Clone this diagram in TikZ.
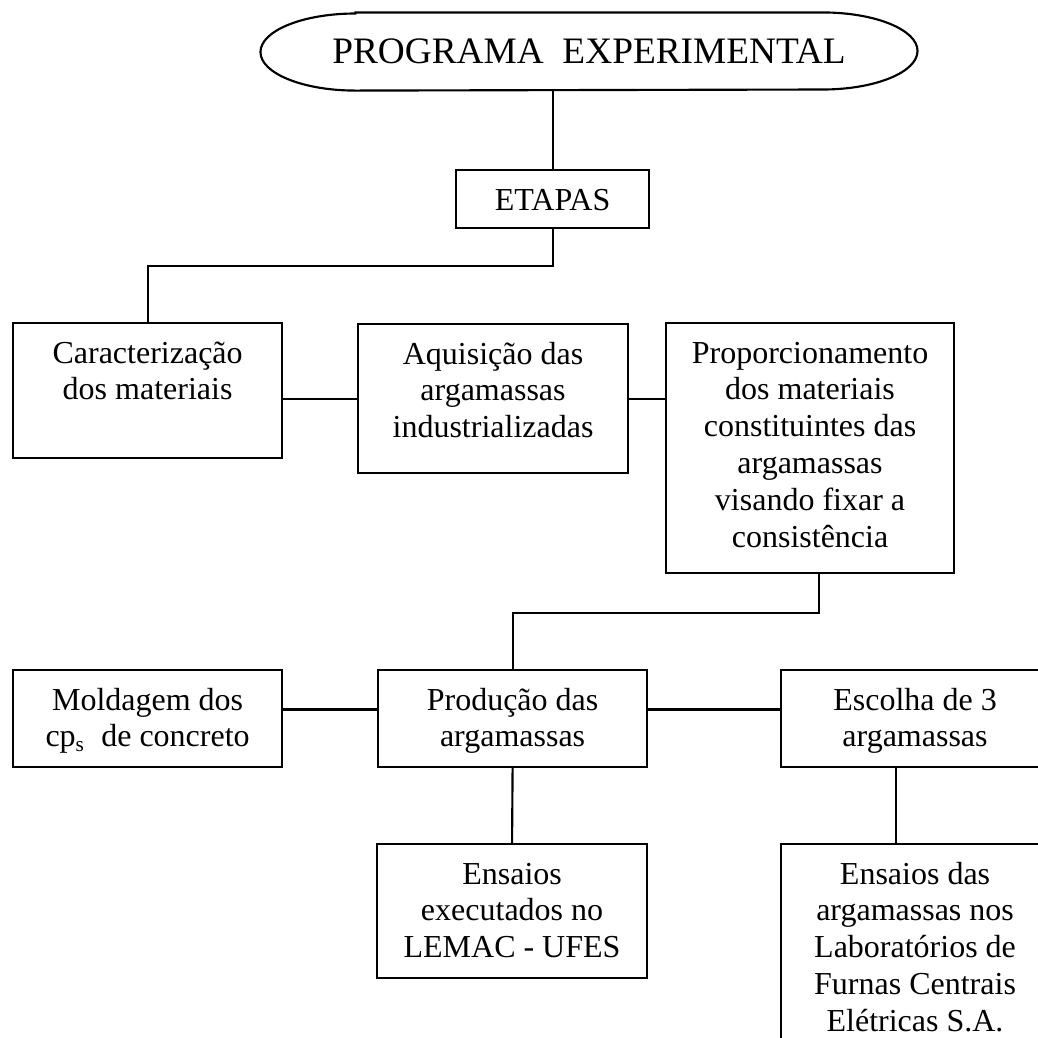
\documentclass[tikz,border=0pt]{standalone}
\usepackage{fontspec}
\setmainfont{Liberation Serif}
\usetikzlibrary{calc}

% box text: width, height, lines (top aligned)
\newcommand{\boxtext}[3]{\parbox[t][#2][t]{#1}{\centering\rule{0pt}{15pt}#3}}

\begin{document}
\begin{tikzpicture}[
  x=0.375pt, y=0.375pt,
  box/.style={
    draw,
    line width=0.8pt,
    inner sep=0pt,
    anchor=north west,
    font=\fontsize{12}{13.8}\selectfont
  },
  title/.style={
    inner sep=0pt,
    minimum width=246pt,
    minimum height=28.9pt,
    font=\fontsize{14}{16}\selectfont
  },
  conn/.style={line width=0.8pt}
]

\useasboundingbox (0,0) rectangle (1038,-1038);
\clip (0,0) rectangle (1038,-1038);

\node[title] (prog) at (589,-51.5) {PROGRAMA~~EXPERIMENTAL};
% flat top and bottom, elliptic ends
\draw[conn] ([xshift=35.6pt]prog.north west) -- ([xshift=-35.6pt]prog.north east)
  arc[start angle=90, end angle=-90, x radius=35.6pt, y radius=14.45pt]
  -- ([xshift=35.6pt]prog.south west)
  arc[start angle=270, end angle=90, x radius=35.6pt, y radius=14.45pt] -- cycle;

\node[box] (etapas) at (455,-169) {\boxtext{72.4pt}{21.75pt}{ETAPAS}};

\node[box] (caract) at (12,-322) {\boxtext{100.9pt}{50.6pt}{Caracterização\\dos materiais}};
\node[box] (aquis) at (357,-323) {\boxtext{101.25pt}{55.9pt}{Aquisição das\\argamassas\\industrializadas}};
\node[box] (propor) at (665,-322) {\boxtext{108pt}{93.75pt}{Proporcionamento\\dos materiais\\constituintes das\\argamassas\\visando fixar a\\consistência}};

\node[box] (mold) at (12,-669) {\boxtext{100.9pt}{36.4pt}{Moldagem dos\\cp\textsubscript{s}\ \ de concreto}};
\node[box] (prod) at (377,-669) {\boxtext{100.9pt}{36.4pt}{Produção das\\argamassas}};
\node[box] (escolha) at (780,-669) {\boxtext{100.5pt}{36.4pt}{Escolha de 3\\argamassas}};

\node[box] (ensaios) at (376,-843) {\boxtext{101.25pt}{50.25pt}{Ensaios\\executados no\\LEMAC - UFES}};
\node[box] (furnas) at (780,-843) {\boxtext{100.5pt}{86pt}{Ensaios das\\argamassas nos\\Laboratórios de\\Furnas Centrais\\Elétricas S.A.}};

\draw[conn] (etapas.north) -- (etapas.north |- prog.south);
\draw[conn] (etapas.south) -- ++(0,-37) -| (caract.north);
\draw[conn] (aquis.west) -- (aquis.west -| caract.east);
\draw[conn] (aquis.east) -- (aquis.east -| propor.west);
\draw[conn] ([xshift=3.4pt]propor.south) -- ++(0,-39) -| (prod.north);
\draw[conn] ([yshift=3.4pt]prod.west) -- ([yshift=3.4pt]prod.west -| mold.east);
\draw[conn] ([yshift=3.4pt]prod.east) -- ([yshift=3.4pt]prod.east -| escolha.west);
\draw[conn] (prod.south) -- (ensaios.north);
\draw[conn] ([xshift=-7pt]escolha.south) -- ([xshift=-7pt]furnas.north);

\end{tikzpicture}
\end{document}
